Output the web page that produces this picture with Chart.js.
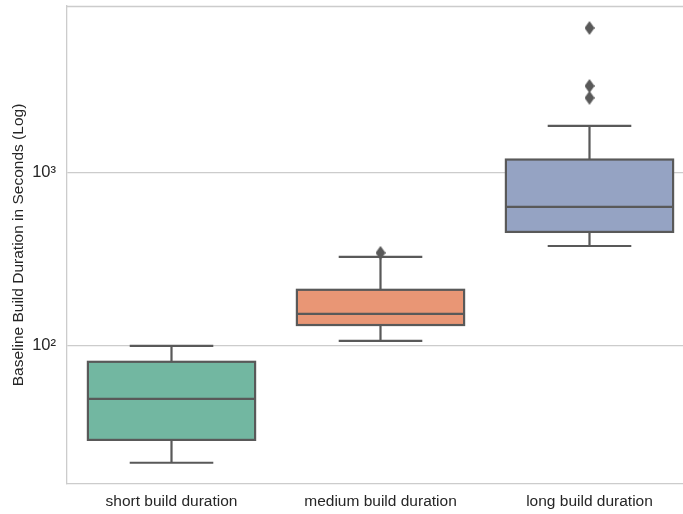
<!DOCTYPE html>
<html>
<head>
<meta charset="utf-8">
<script src="https://cdn.jsdelivr.net/npm/chart.js@4/dist/chart.umd.min.js"></script>
<style>
html,body{margin:0;padding:0;overflow:hidden;background:#fff;width:683px;height:514px;}
#wrap{position:absolute;left:0;top:0;width:700px;height:514px;}
</style>
</head>
<body>
<div id="wrap"><canvas id="c" width="700" height="514"></canvas></div>
<script>
const categories = ['short build duration', 'medium build duration', 'long build duration'];
const whiskerLow = [21.1, 107, 378];
const q1 = [28.6, 132, 456];
const median = [49.4, 153, 636];
const q3 = [80.9, 211, 1195];
const whiskerHigh = [100, 327, 1871];
const outlierCats = ['medium build duration', 'long build duration', 'long build duration', 'long build duration'];
const outlierValues = [345, 2717, 3183, 6887];
const tickValues = [100, 1000];
const tickLabels = ['10²', '10³'];
const boxColors = ['#72b7a1', '#e99675', '#95a3c3'];

const LINE = '#595959';
const FONT = '"Liberation Sans", Arial, sans-serif';

// diamond marker
const diamond = document.createElement('canvas');
diamond.width = 10; diamond.height = 14;
(function(){
  const g = diamond.getContext('2d');
  g.fillStyle = LINE;
  g.beginPath();
  g.moveTo(5, 0); g.lineTo(10, 7); g.lineTo(5, 14); g.lineTo(0, 7); g.closePath();
  g.fill();
})();

const boxPlugin = {
  id: 'boxParts',
  beforeDatasetsDraw(chart) {
    const {ctx, chartArea, scales} = chart;
    const x = scales.x, y = scales.y;
    ctx.save();
    ctx.strokeStyle = '#cccccc';
    ctx.lineWidth = 1.3;
    ctx.beginPath();
    ctx.moveTo(chartArea.left, chartArea.top + 0.5);
    ctx.lineTo(chartArea.right, chartArea.top + 0.5);
    ctx.stroke();
    const step = x.getPixelForValue(1) - x.getPixelForValue(0);
    ctx.strokeStyle = LINE;
    ctx.lineWidth = 2.2;
    ctx.lineCap = 'butt';
    for (let i = 0; i < categories.length; i++) {
      const cx = x.getPixelForValue(i);
      const half = step * 0.2;
      const yl = y.getPixelForValue(whiskerLow[i]);
      const yq1 = y.getPixelForValue(q1[i]);
      const yq3 = y.getPixelForValue(q3[i]);
      const yh = y.getPixelForValue(whiskerHigh[i]);
      ctx.beginPath();
      ctx.moveTo(cx, yq1); ctx.lineTo(cx, yl);
      ctx.moveTo(cx, yq3); ctx.lineTo(cx, yh);
      ctx.moveTo(cx - half, yl); ctx.lineTo(cx + half, yl);
      ctx.moveTo(cx - half, yh); ctx.lineTo(cx + half, yh);
      ctx.stroke();
    }
    ctx.restore();
  },
  afterDatasetsDraw(chart) {
    const {ctx, scales} = chart;
    const x = scales.x, y = scales.y;
    const step = x.getPixelForValue(1) - x.getPixelForValue(0);
    ctx.save();
    ctx.strokeStyle = LINE;
    ctx.lineWidth = 2.2;
    ctx.lineJoin = 'miter';
    for (let i = 0; i < categories.length; i++) {
      const cx = x.getPixelForValue(i);
      const half = step * 0.4;
      const yq1 = y.getPixelForValue(q1[i]);
      const yq3 = y.getPixelForValue(q3[i]);
      const ym = y.getPixelForValue(median[i]);
      ctx.strokeRect(cx - half, yq3, 2 * half, yq1 - yq3);
      ctx.beginPath();
      ctx.moveTo(cx - half, ym); ctx.lineTo(cx + half, ym);
      ctx.stroke();
    }
    ctx.restore();
    // outliers drawn on top
  }
};

new Chart(document.getElementById('c'), {
  type: 'bar',
  data: {
    labels: categories,
    datasets: [
      {
        type: 'bar',
        data: categories.map((c, i) => [q1[i], q3[i]]),
        backgroundColor: boxColors,
        borderWidth: 0,
        barPercentage: 0.8,
        categoryPercentage: 1.0,
        order: 2
      },
      {
        type: 'line',
        data: outlierCats.map((c, i) => ({x: c, y: outlierValues[i]})),
        showLine: false,
        pointStyle: diamond,
        pointRadius: 5,
        pointHoverRadius: 5,
        order: 1
      }
    ]
  },
  options: {
    responsive: false,
    animation: false,
    events: [],
    layout: {padding: {top: 5, right: 1, left: 0, bottom: 0}},
    plugins: {legend: {display: false}, tooltip: {enabled: false}},
    scales: {
      x: {
        type: 'category',
        grid: {display: false, drawTicks: false},
        border: {display: true, color: '#cccccc', width: 1.3},
        ticks: {color: '#262626', font: {family: FONT, size: 15.5}, padding: 8, maxRotation: 0},
        afterFit(s) { s.height = 30; s.paddingLeft = 0; s.paddingRight = 0; }
      },
      y: {
        type: 'logarithmic',
        min: 15.9,
        max: 9230,
        afterBuildTicks(s) { s.ticks = tickValues.map(v => ({value: v})); },
        grid: {color: '#cccccc', lineWidth: 1.3, drawTicks: false},
        border: {display: true, color: '#cccccc', width: 1.3},
        ticks: {
          color: '#262626',
          font: {family: FONT, size: 16.5},
          padding: 11,
          callback(v) { const k = tickValues.indexOf(v); return k >= 0 ? tickLabels[k] : ''; }
        },
        title: {
          display: true,
          text: 'Baseline Build Duration in Seconds (Log)',
          color: '#262626',
          font: {family: FONT, size: 15.5},
          padding: {top: 9, bottom: 4}
        },
        afterFit(s) { s.width = 67; s.paddingTop = 0; s.paddingBottom = 0; }
      }
    }
  },
  plugins: [boxPlugin]
});
</script>
</body>
</html>
